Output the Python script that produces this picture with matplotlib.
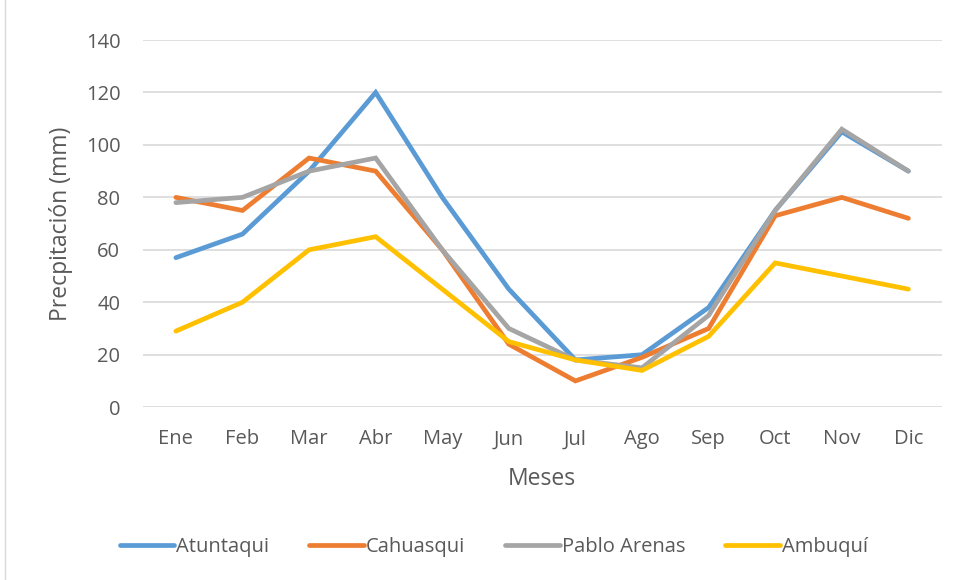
import matplotlib.pyplot as plt
from matplotlib.patches import Rectangle

# ---------- Data ----------
meses = ['Ene', 'Feb', 'Mar', 'Abr', 'May', 'Jun', 'Jul', 'Ago', 'Sep', 'Oct', 'Nov', 'Dic']
atuntaqui = [57, 66, 90, 120, 80, 45, 18, 20, 38, 75, 105, 90]
cahuasqui = [80, 75, 95, 90, 60, 24, 10, 19, 30, 73, 80, 72]
pablo_arenas = [78, 80, 90, 95, 60, 30, 18, 15, 35, 75, 106, 90]
ambuqui = [29, 40, 60, 65, 45, 25, 18, 14, 27, 55, 50, 45]

series = [
    ('Atuntaqui', atuntaqui, '#5B9BD5'),
    ('Cahuasqui', cahuasqui, '#ED7D31'),
    ('Pablo Arenas', pablo_arenas, '#A5A5A5'),
    ('Ambuquí', ambuqui, '#FFC000'),
]

plt.rcParams['font.family'] = ['Open Sans', 'DejaVu Sans']
text_color = '#595959'

fig = plt.figure(figsize=(9.57, 5.80), dpi=100)
ax = fig.add_axes([0.149, 0.298, 0.835, 0.633])

x = list(range(len(meses)))
for name, vals, color in series:
    ax.plot(x, vals, color=color, lw=3.4, label=name,
            solid_capstyle='round', solid_joinstyle='miter')

ax.set_xlim(-0.5, 11.5)
ax.set_ylim(0, 140)
ax.set_yticks(range(0, 141, 20))
ax.set_xticks(x)
ax.set_xticklabels(meses)
ax.grid(axis='y', color='#D9D9D9', lw=1.2)
ax.set_axisbelow(True)
for s in ax.spines.values():
    s.set_visible(False)
ax.tick_params(length=0, labelsize=14.5, colors=text_color)
ax.tick_params(axis='y', pad=16)
ax.tick_params(axis='x', pad=16)

ax.set_xlabel('Meses', fontsize=16.5, color=text_color, labelpad=13)
ax.set_ylabel('Precpitación (mm)', fontsize=16.5, color=text_color, labelpad=9)

fig.legend(loc='center', bbox_to_anchor=(0.516, 0.057), ncol=4, frameon=False,
           fontsize=14.5, labelcolor=text_color, handlelength=2.7,
           handletextpad=0.1, columnspacing=2.0)

# light chart border
fig.patches.append(Rectangle((0.005, -0.01), 1.0, 1.02, transform=fig.transFigure,
                             fill=False, edgecolor='#D9D9D9', lw=1))

fig.savefig('out.png', dpi=100)
